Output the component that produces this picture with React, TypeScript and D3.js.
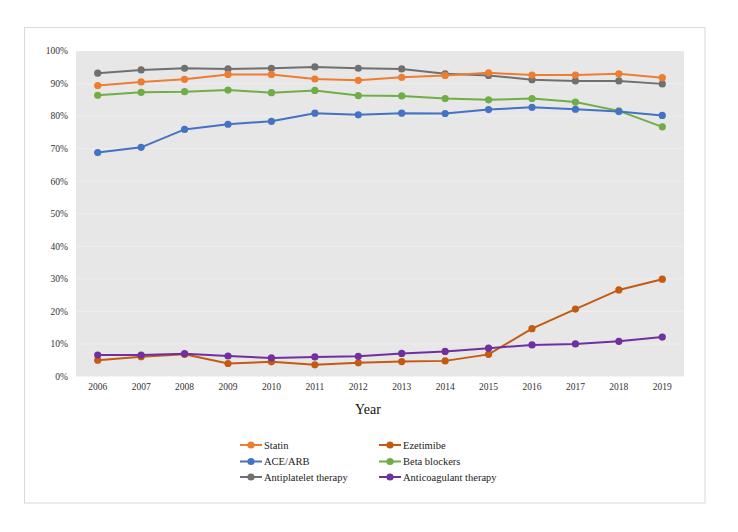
import React from "react";
import * as d3 from "d3";

const years = ["2006","2007","2008","2009","2010","2011","2012","2013","2014","2015","2016","2017","2018","2019"];
const statin = [89.4, 90.5, 91.3, 92.8, 92.8, 91.4, 91.0, 91.9, 92.5, 93.3, 92.6, 92.6, 93.0, 91.8];
const ezetimibe = [5.0, 6.1, 6.8, 4.0, 4.5, 3.6, 4.2, 4.6, 4.8, 6.8, 14.7, 20.7, 26.6, 29.9];
const aceArb = [68.8, 70.4, 75.9, 77.5, 78.4, 80.9, 80.4, 80.9, 80.8, 82.0, 82.7, 82.1, 81.4, 80.2];
const betaBlockers = [86.4, 87.3, 87.5, 88.0, 87.2, 87.9, 86.3, 86.2, 85.4, 85.0, 85.4, 84.3, 81.6, 76.7];
const antiplatelet = [93.2, 94.2, 94.7, 94.5, 94.7, 95.1, 94.7, 94.5, 93.0, 92.5, 91.2, 90.8, 90.8, 89.9];
const anticoagulant = [6.6, 6.6, 7.0, 6.3, 5.7, 6.0, 6.2, 7.1, 7.7, 8.7, 9.7, 10.0, 10.8, 12.1];
const yTicks = [0, 10, 20, 30, 40, 50, 60, 70, 80, 90, 100];

const series = [
  { name: "Statin", values: statin, color: "#ED7D31" },
  { name: "Ezetimibe", values: ezetimibe, color: "#C55A11" },
  { name: "ACE/ARB", values: aceArb, color: "#4472C4" },
  { name: "Beta blockers", values: betaBlockers, color: "#70AD47" },
  { name: "Antiplatelet therapy", values: antiplatelet, color: "#707070" },
  { name: "Anticoagulant therapy", values: anticoagulant, color: "#7030A0" },
];
// drawing order (back to front)
const drawOrder = [4, 3, 2, 0, 1, 5];

if (typeof document !== "undefined") {
  document.body.style.margin = "0";
}

export default function App() {
  const W = 738, H = 532;
  const left = 76, right = 684, top = 51, bottom = 376.5;
  const x = d3.scaleBand<string>().domain(years).range([left, right]);
  const y = d3.scaleLinear().domain([0, 100]).range([bottom, top]);
  const cx = (yr: string) => (x(yr) as number) + x.bandwidth() / 2;
  const line = d3.line<number>().x((_, i) => cx(years[i])).y((v) => y(v));
  const font = "'Liberation Serif', 'Times New Roman', serif";

  const legendRows = [445, 461.5, 477];
  const legendCols = [240, 379];

  return (
    <svg width={W} height={H} style={{ display: "block", fontFamily: font }}>
      <rect x={0} y={0} width={W} height={H} fill="#fff" />
      <rect x={24.5} y={27.5} width={680.5} height={475.5} fill="#fff" stroke="#d9d9d9" strokeWidth={1} />
      <rect x={left} y={top} width={right - left} height={bottom - top} fill="#e7e7e7" />
      {yTicks.map((t) => (
        <g key={t}>
          {t > 0 && t < 100 && (
            <line x1={left} x2={right} y1={y(t)} y2={y(t)} stroke="#eeeeee" strokeWidth={1} />
          )}
          <text x={68} y={y(t)} dy="0.35em" textAnchor="end" fontSize={9.5} fill="#333">
            {t}%
          </text>
        </g>
      ))}
      {years.map((yr) => (
        <text key={yr} x={cx(yr)} y={387} dy="0.35em" textAnchor="middle" fontSize={9.5} fill="#333">
          {yr}
        </text>
      ))}
      <text x={(left + right) / 2 - 12} y={409} dy="0.35em" textAnchor="middle" fontSize={14} fill="#111">
        Year
      </text>
      {drawOrder.map((si) => {
        const s = series[si];
        return (
          <g key={s.name}>
            <path d={line(s.values) || ""} fill="none" stroke={s.color} strokeWidth={2} />
            {s.values.map((v, i) => (
              <circle key={i} cx={cx(years[i])} cy={y(v)} r={3.6} fill={s.color} />
            ))}
          </g>
        );
      })}
      {series.map((s, i) => {
        const lx = legendCols[i % 2];
        const ly = legendRows[Math.floor(i / 2)];
        return (
          <g key={s.name}>
            <line x1={lx} x2={lx + 22} y1={ly} y2={ly} stroke={s.color} strokeWidth={2} />
            <circle cx={lx + 11} cy={ly} r={3.6} fill={s.color} />
            <text x={lx + 24} y={ly} dy="0.35em" fontSize={10.5} fill="#222">
              {s.name}
            </text>
          </g>
        );
      })}
    </svg>
  );
}
